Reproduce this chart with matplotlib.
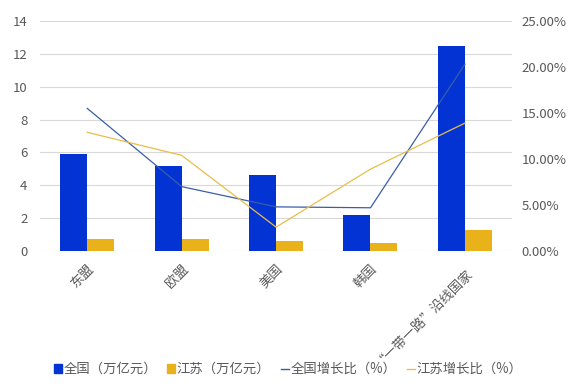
import matplotlib
matplotlib.use("Agg")
import matplotlib.pyplot as plt
import numpy as np
from matplotlib.patches import Patch
from matplotlib.lines import Line2D

plt.rcParams['font.family'] = ['Noto Sans CJK SC', 'DejaVu Sans']

categories = ['东盟', '欧盟', '美国', '韩国', '“一带一路”沿线国家']
national = [5.9, 5.16, 4.61, 2.22, 12.5]        # 全国（万亿元）
jiangsu = [0.76, 0.76, 0.63, 0.51, 1.31]        # 江苏（万亿元）
national_growth = [15.5, 7.0, 4.8, 4.7, 20.3]   # 全国增长比（%）
jiangsu_growth = [12.9, 10.4, 2.6, 8.9, 13.9]   # 江苏增长比（%）

blue = '#0433D4'
yellow = '#E9B11A'
line_blue = '#3A5DA8'
line_yellow = '#E8BE48'
text_gray = '#595959'

fig = plt.figure(figsize=(5.85, 3.88), dpi=100)
ax = fig.add_axes([0.0684, 0.353, 0.807, 0.593])
ax2 = ax.twinx()

x = np.arange(len(categories))
w = 0.286
ax.bar(x - w / 2, national, w, color=blue, zorder=2)
ax.bar(x + w / 2, jiangsu, w, color=yellow, zorder=2)

ax2.plot(x, national_growth, color=line_blue, lw=0.9)
ax2.plot(x, jiangsu_growth, color=line_yellow, lw=0.9)

ax.set_xlim(-0.5, len(categories) - 0.5)
ax.set_ylim(0, 14)
ax.set_yticks(range(0, 15, 2))
ax2.set_ylim(0, 25)
ax2.set_yticks(range(0, 26, 5))
ax2.set_yticklabels([f'{v:.2f}%' for v in range(0, 26, 5)])

ax.grid(axis='y', color='#D9D9D9', lw=0.8, zorder=0)
ax.set_axisbelow(True)
for a in (ax, ax2):
    for s in a.spines.values():
        s.set_visible(False)
    a.tick_params(length=0, colors=text_gray, labelsize=9.5)
ax.tick_params(axis='y', pad=9)
ax2.tick_params(axis='y', pad=7)

ax.set_xticks(x)
ax.set_xticklabels(categories, rotation=45, ha='right', rotation_mode='anchor')
ax.tick_params(axis='x', pad=8)

handles = [
    Patch(color=blue),
    Patch(color=yellow),
    Line2D([], [], color=line_blue, lw=1),
    Line2D([], [], color=line_yellow, lw=1),
]
labels = ['全国（万亿元）', '江苏（万亿元）', '全国增长比（%）', '江苏增长比（%）']
leg = fig.legend(handles, labels, loc='center', bbox_to_anchor=(288 / 585, 1 - 369 / 388),
                 ncol=4, frameon=False, fontsize=9.6, handlelength=0.6, handleheight=0.6,
                 handletextpad=0.1, columnspacing=0.8, labelcolor=text_gray)

fig.savefig('out.png', dpi=100)
